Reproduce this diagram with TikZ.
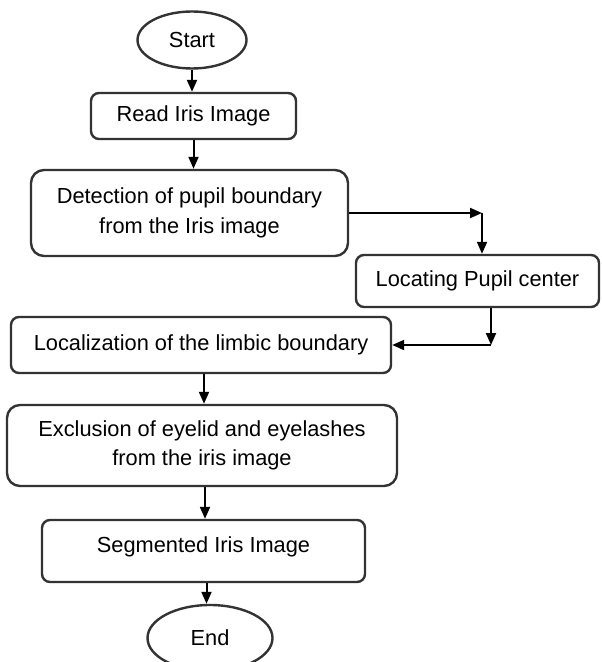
\documentclass[tikz,border=0pt]{standalone}
\usepackage{fontspec}
\setmainfont{Liberation Sans}
\usetikzlibrary{shapes.geometric,arrows.meta}

\tikzset{
  stepbox/.style={draw=black!80, line width=1.2pt, rounded corners=4pt,
    align=center, inner sep=0pt, font=\fontsize{10.9pt}{14.8pt}\selectfont},
  tallbox/.style={stepbox, rounded corners=6.5pt},
  terminal/.style={ellipse, draw=black!80, line width=1.2pt, inner sep=0pt,
    font=\fontsize{10.9pt}{13pt}\selectfont},
  flow/.style={line width=1pt, -{Triangle[length=6pt,width=5pt]}}
}

\begin{document}
\begin{tikzpicture}[x=0.5pt,y=-0.5pt]
  \clip (0,0) rectangle (601,662);

  % steps
  \node[terminal, minimum width=54.5pt, minimum height=28.5pt] (start) at (192,40) {Start};
  \node[stepbox, minimum width=102.5pt, minimum height=23pt] (read) at (193.5,116) {Read Iris Image};
  \node[tallbox, minimum width=158.5pt, minimum height=43pt] (detect) at (189.5,213)
    {Detection of pupil boundary\\from the Iris image};
  \node[stepbox, minimum width=121.5pt, minimum height=26pt] (locate) at (477.5,281) {Locating Pupil center};
  \node[stepbox, minimum width=190pt, minimum height=28pt] (limbic) at (201,345)
    {Localization of the limbic boundary};
  \node[tallbox, minimum width=195pt, minimum height=40.5pt] (exclude) at (202,445.5)
    {Exclusion of eyelid and eyelashes\\from the iris image};
  \node[stepbox, minimum width=161.5pt, minimum height=31pt, text height=6pt, text depth=4.3pt]
    (segment) at (203.5,551) {Segmented Iris Image};
  \node[terminal, minimum width=62.5pt, minimum height=33pt] (end) at (210,638) {End};

  % bends of the side branch
  \coordinate (bendA) at (482,213);
  \coordinate (bendB) at (491,345);

  % connectors
  \draw[flow] (start.south) -- (start.south |- read.north);
  \draw[flow] (read.south) -- (read.south |- detect.north);
  \draw[flow] (detect.east) -- (bendA);
  \draw[flow] (bendA) -- (bendA |- locate.north);
  \draw[flow] (bendB |- locate.south) -- (bendB);
  \draw[flow] (bendB) -- (limbic.east);
  \draw[flow] ([xshift=1.5pt]limbic.south) -- ([xshift=1.5pt]limbic.south |- exclude.north);
  \draw[flow] ([xshift=1.5pt]exclude.south) -- ([xshift=1.5pt]exclude.south |- segment.north);
  \draw[flow] ([xshift=1.5pt]segment.south) -- ([xshift=1.5pt]segment.south |- end.north);
\end{tikzpicture}
\end{document}
